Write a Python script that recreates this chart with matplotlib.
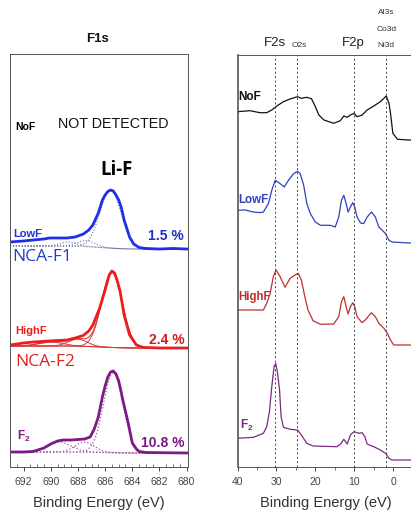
import numpy as np
import matplotlib
matplotlib.use("Agg")
import matplotlib.pyplot as plt
from matplotlib.ticker import MultipleLocator

plt.rcParams['font.family'] = ['Liberation Sans', 'DejaVu Sans']
plt.rcParams['mathtext.fontset'] = 'custom'
plt.rcParams['mathtext.bf'] = 'Liberation Sans:bold'

# ---------------- F1s core level (left panel) ----------------
f1s_lowF_be = [693.0, 692.0, 691.3, 690.5, 690.1, 689.5, 688.8, 688.2, 687.6, 687.2,
               686.9, 686.5, 686.2, 686.0, 685.8, 685.6, 685.4, 685.2, 685.0, 684.8,
               684.6, 684.2, 683.9, 683.5, 683.0, 682.0, 681.0, 680.0]
f1s_lowF = [7, 8, 9, 10, 11, 11, 11, 12, 15, 19,
            24, 36, 49, 54, 57.5, 59, 58, 54, 49, 41,
            29, 12, 5, 1.5, 0.5, 0, 0.5, 0]
f1s_highF_be = [693.0, 692.0, 691.3, 690.1, 688.8, 688.2, 687.6, 687.2, 686.9, 686.4,
                686.2, 685.9, 685.7, 685.5, 685.3, 685.1, 684.9, 684.75, 684.6, 684.2,
                683.7, 683.2, 682.0, 680.0]
f1s_highF = [3, 5, 6, 7, 8, 10, 12.6, 17, 23, 40,
             49, 63, 73, 77, 75, 67, 57, 45, 33, 13,
             3, 0.6, 0, 0]
f1s_F2_be = [693.0, 692.0, 691.3, 690.5, 690.0, 689.5, 689.1, 688.5, 688.0, 687.5,
             687.1, 686.8, 686.5, 686.2, 686.0, 685.8, 685.6, 685.4, 685.2, 685.0,
             684.85, 684.7, 684.3, 684.0, 683.7, 683.5, 683.0, 680.0]
f1s_F2 = [1, 1, 1.5, 5, 9, 12, 13, 13, 13.5, 14,
          16, 24, 36, 56, 67, 76, 81, 82, 79, 72,
          63, 53, 30, 10, 4, 1.5, 0.5, 0]

# fitted components: (centre eV, height, sigma)
fit_lowF = [(688.7, 4, 0.6), (687.4, 6, 0.65), (685.6, 58, 0.78)]
fit_highF = [(690.0, 4, 0.9), (688.0, 7, 0.7), (685.5, 75, 0.75)]
fit_F2 = [(689.4, 10, 0.9), (687.5, 10, 0.7), (685.4, 80, 0.72)]
bg_be = [693.0, 691.0, 689.0, 688.0, 687.0, 686.0, 685.0, 684.0, 680.0]
bg_lowF = [3, 3, 3, 2.8, 2.2, 1.2, 0.4, 0, 0]
bg_highF = [2, 2, 2, 1.8, 1.4, 0.8, 0.3, 0, 0]
bg_F2 = [1, 1, 1, 1, 0.8, 0.5, 0.2, 0, 0]
f1s_pct = ["1.5 %", "2.4 %", "10.8 %"]

# ---------------- Valence band (right panel) ----------------
vb_NoF_be = [40, 36.8, 34.2, 32.5, 31.2, 29.9, 28.2, 26.5, 24.6, 23.6,
             22.2, 21.0, 20.0, 19.1, 17.8, 15.3, 13.6, 12.7, 11.8, 11.0,
             10.1, 9.3, 8.0, 6.7, 5.0, 3.3, 1.8, 1.1, 0.7, 0.1,
             -1.1, -4.0, -5.2]
vb_NoF = [28.3, 29.3, 27.3, 27.3, 30, 34, 38.3, 41, 43.3, 41.7,
          42.7, 41.3, 33.3, 25, 20, 16.7, 19.3, 24, 22.7, 25,
          26.7, 23.3, 25, 30, 34, 38.3, 44, 36.7, 26.7, 6.7,
          0.7, 0, 0]
vb_LowF_be = [40, 38, 36, 34.2, 33.35, 32.06, 31.2, 30.33, 29.05, 28.0,
              26.9, 25.6, 24.6, 23.9, 23.0, 22.2, 21.3, 20.0, 18.7, 16.2,
              14.9, 14.0, 13.3, 12.7, 12.1, 11.6, 11.0, 10.4, 9.9, 9.3,
              8.4, 7.6, 6.7, 5.6, 4.6, 3.7, 2.8, 2.0, 1.1, 0.3,
              -4.0, -5.2]
vb_LowF = [32.7, 33, 31, 30.4, 31, 39.4, 52.7, 62.7, 59.4, 56,
           62.7, 69.4, 71.7, 69.4, 57.7, 39.4, 29.4, 21, 17.7, 17.7,
           16, 26, 42.7, 47.7, 39.4, 31, 36, 40.4, 36, 26,
           20, 19.4, 26, 31, 26, 16, 12.7, 9.4, 2.7, 1,
           0, 0]
vb_HighF_be = [40, 33.35, 32.5, 31.6, 30.8, 30.1, 29.05, 27.8, 26.5, 25.2,
               24.4, 23.6, 22.7, 21.9, 20.6, 18.7, 15.3, 14.0, 13.3, 12.7,
               12.1, 11.6, 11.0, 10.4, 9.9, 9.3, 8.0, 7.2, 5.6, 4.6,
               3.7, 2.4, 1.5, 0.7, -0.1, -4.0, -5.2]
vb_HighF = [35, 35, 41.7, 51.7, 68.3, 75, 68.3, 57.7, 66.7, 70,
            71.7, 65, 48.3, 35, 24.3, 20.7, 21, 28.3, 43.3, 48.3,
            38.3, 31, 38.3, 42.3, 38.3, 28.3, 22.3, 25, 32.3, 28.3,
            21.7, 16.7, 11.7, 5, 0, 0, 0]
vb_F2_be = [40, 35.9, 33.35, 32.5, 31.8, 31.2, 30.6, 30.2, 29.7, 29.2,
            28.8, 28.2, 26.5, 24.6, 23.6, 22.2, 20.6, 14.5, 13.5, 12.7,
            11.8, 11.0, 10.1, 8.8, 8.0, 7.3, 6.7, 5.0, 3.3, 2.0,
            1.1, 0.3, -4.0, -5.2]
vb_F2 = [21.7, 22.7, 26.7, 33.3, 48.3, 73.3, 93.3, 96.7, 86.7, 70,
         43.3, 32.7, 30.7, 30, 25, 16.7, 14, 13.3, 16, 20.7,
         16, 25, 28.3, 26.7, 27.3, 23.3, 16, 13.3, 10, 6.7,
         1.7, 0, 0, 0]
vb_lines = [30.3, 24.6, 10.2, 1.8]

colors_f1s = {"LowF": "#1f2fe6", "HighF": "#ee1c1c", "F2": "#7d1a85"}
colors_vb = {"NoF": "#111111", "LowF": "#3040c0", "HighF": "#c03030", "F2": "#7a2a80"}
f1s_offsets = {"LowF": 218, "HighF": 119, "F2": 14}
vb_offsets = {"NoF": 327, "LowF": 224, "HighF": 122, "F2": 7}

W, H = 411, 513
fig = plt.figure(figsize=(W / 100, H / 100), dpi=100)
axL = fig.add_axes([10 / W, 1 - 467 / H, 178 / W, 413 / H])
axR = fig.add_axes([237.5 / W, 1 - 467 / H, 176 / W, 412 / H])


def gauss(x, c, h, s):
    return h * np.exp(-(x - c) ** 2 / (2 * s ** 2))


grid = np.linspace(693, 680, 600)

left_sets = [
    ("LowF", f1s_lowF_be, f1s_lowF, fit_lowF, bg_lowF, ':', "#7878a8", 0.8),
    ("HighF", f1s_highF_be, f1s_highF, fit_highF, bg_highF, '-', "#d83a3a", 0.7),
    ("F2", f1s_F2_be, f1s_F2, fit_F2, bg_F2, ':', "#9a5aa5", 0.9),
]
for name, be, vals, comps, bg, ls, ccol, clw in left_sets:
    off = f1s_offsets[name]
    bgi = np.interp(grid[::-1], bg_be[::-1], bg[::-1])[::-1]
    axL.plot(grid, bgi + off, ls=ls, color=ccol, lw=clw)
    total = bgi.copy()
    for c, h, s in comps:
        g = gauss(grid, c, h, s)
        total += g
        axL.plot(grid, bgi + g + off, ls=ls, color=ccol, lw=clw)
    if name == "HighF":
        axL.plot(grid, total + off, ls='-', color=ccol, lw=0.8)
    axL.plot(be, np.array(vals) + off, color=colors_f1s[name], lw=2.0,
             solid_joinstyle='round')

axL.set_xlim(693, 679.9)
axL.set_ylim(0, 413)
axL.set_yticks([])
axL.xaxis.set_major_locator(MultipleLocator(2))
axL.xaxis.set_minor_locator(MultipleLocator(0.5))
axL.tick_params(axis='x', which='major', direction='out', length=3, width=0.7,
                labelsize=7.5, colors='#444444', pad=4)
axL.tick_params(axis='x', which='minor', direction='in', length=2, width=0.5, colors='#444444')
axL.set_xlabel("Binding Energy (eV)", fontsize=10.5, color='#333333', labelpad=7)
for sp in axL.spines.values():
    sp.set_linewidth(0.7)
    sp.set_color('#555555')

axL.text(0.489, 1.036, "F1s", transform=axL.transAxes, ha='center', va='center',
         fontsize=9.5, fontweight='bold', color='#111111')
axL.text(692.63, 340, "NoF", ha='left', va='center', fontsize=7.5, fontweight='bold')
axL.text(685.38, 343, "NOT DETECTED", ha='center', va='center', fontsize=10.3, color='#111111')
axL.text(685.16, 297, "Li-F", ha='center', va='center', fontsize=13.5, fontweight='bold',
         family=['Open Sans', 'DejaVu Sans'])
axL.text(692.78, 233, "LowF", ha='left', va='center', fontsize=8, fontweight='bold',
         color=colors_f1s["LowF"])
axL.text(680.18, 231, f1s_pct[0], ha='right', va='center', fontsize=10, fontweight='bold',
         color="#2030c0")
axL.text(692.85, 210, "NCA-F1", ha='left', va='center', fontsize=12.5, color="#2040c8",
         family=['Open Sans', 'DejaVu Sans'])
axL.text(692.63, 136, "HighF", ha='left', va='center', fontsize=8, fontweight='bold',
         color=colors_f1s["HighF"])
axL.text(680.18, 127, f1s_pct[1], ha='right', va='center', fontsize=10, fontweight='bold',
         color="#d02020")
axL.text(692.63, 105, "NCA-F2", ha='left', va='center', fontsize=12.5, color="#dd2222",
         family=['Open Sans', 'DejaVu Sans'])
axL.text(692.49, 31, r"$\mathbf{F_2}$", ha='left', va='center', fontsize=8.5,
         color=colors_f1s["F2"])
axL.text(680.18, 24, f1s_pct[2], ha='right', va='center', fontsize=10, fontweight='bold',
         color="#7a1a80")

# ---------------- right panel ----------------
vb_sets = [("NoF", vb_NoF_be, vb_NoF), ("LowF", vb_LowF_be, vb_LowF),
           ("HighF", vb_HighF_be, vb_HighF), ("F2", vb_F2_be, vb_F2)]
for name, be, vals in vb_sets:
    axR.plot(be, np.array(vals) + vb_offsets[name], color=colors_vb[name], lw=0.9,
             solid_joinstyle='round')
for xv in vb_lines:
    axR.axvline(xv, color='#444444', lw=0.7, ls=(0, (2, 2.5)))

axR.set_xlim(40, -5.2)
axR.set_ylim(0, 412)
axR.set_yticks([])
axR.xaxis.set_major_locator(MultipleLocator(10))
axR.xaxis.set_minor_locator(MultipleLocator(5))
axR.tick_params(axis='x', which='major', direction='out', length=3, width=0.7,
                labelsize=7.5, colors='#444444', pad=4)
axR.tick_params(axis='x', which='minor', direction='out', length=2, width=0.5, colors='#444444')
axR.set_xlabel("Binding Energy (eV)", fontsize=10.5, color='#333333', labelpad=7)
axR.spines['right'].set_visible(False)
for sp in axR.spines.values():
    sp.set_linewidth(0.7)
    sp.set_color('#555555')
axR.spines['left'].set_linewidth(1.2)

tr = axR.get_xaxis_transform()
axR.text(30.3, 1.029, "F2s", transform=tr, ha='center', va='center', fontsize=9.5, color='#222222', clip_on=False)
axR.text(24.2, 1.024, "O2s", transform=tr, ha='center', va='center', fontsize=6, color='#333333', clip_on=False)
axR.text(10.2, 1.029, "F2p", transform=tr, ha='center', va='center', fontsize=9.5, color='#222222', clip_on=False)
axR.text(1.8, 1.024, "Ni3d", transform=tr, ha='center', va='center', fontsize=6, color='#333333', clip_on=False)
axR.text(1.8, 1.063, "Co3d", transform=tr, ha='center', va='center', fontsize=6, color='#333333', clip_on=False)
axR.text(1.8, 1.104, "Al3s", transform=tr, ha='center', va='center', fontsize=6, color='#333333', clip_on=False)

axR.text(39.8, 370, "NoF", ha='left', va='center', fontsize=8.5, fontweight='bold', color='#111111')
axR.text(39.8, 267, "LowF", ha='left', va='center', fontsize=8.3, fontweight='bold', color=colors_vb["LowF"])
axR.text(39.8, 170, "HighF", ha='left', va='center', fontsize=8.3, fontweight='bold', color=colors_vb["HighF"])
axR.text(39.4, 42, r"$\mathbf{F_2}$", ha='left', va='center', fontsize=8.5, color=colors_vb["F2"])

fig.savefig("out.png", dpi=100)
